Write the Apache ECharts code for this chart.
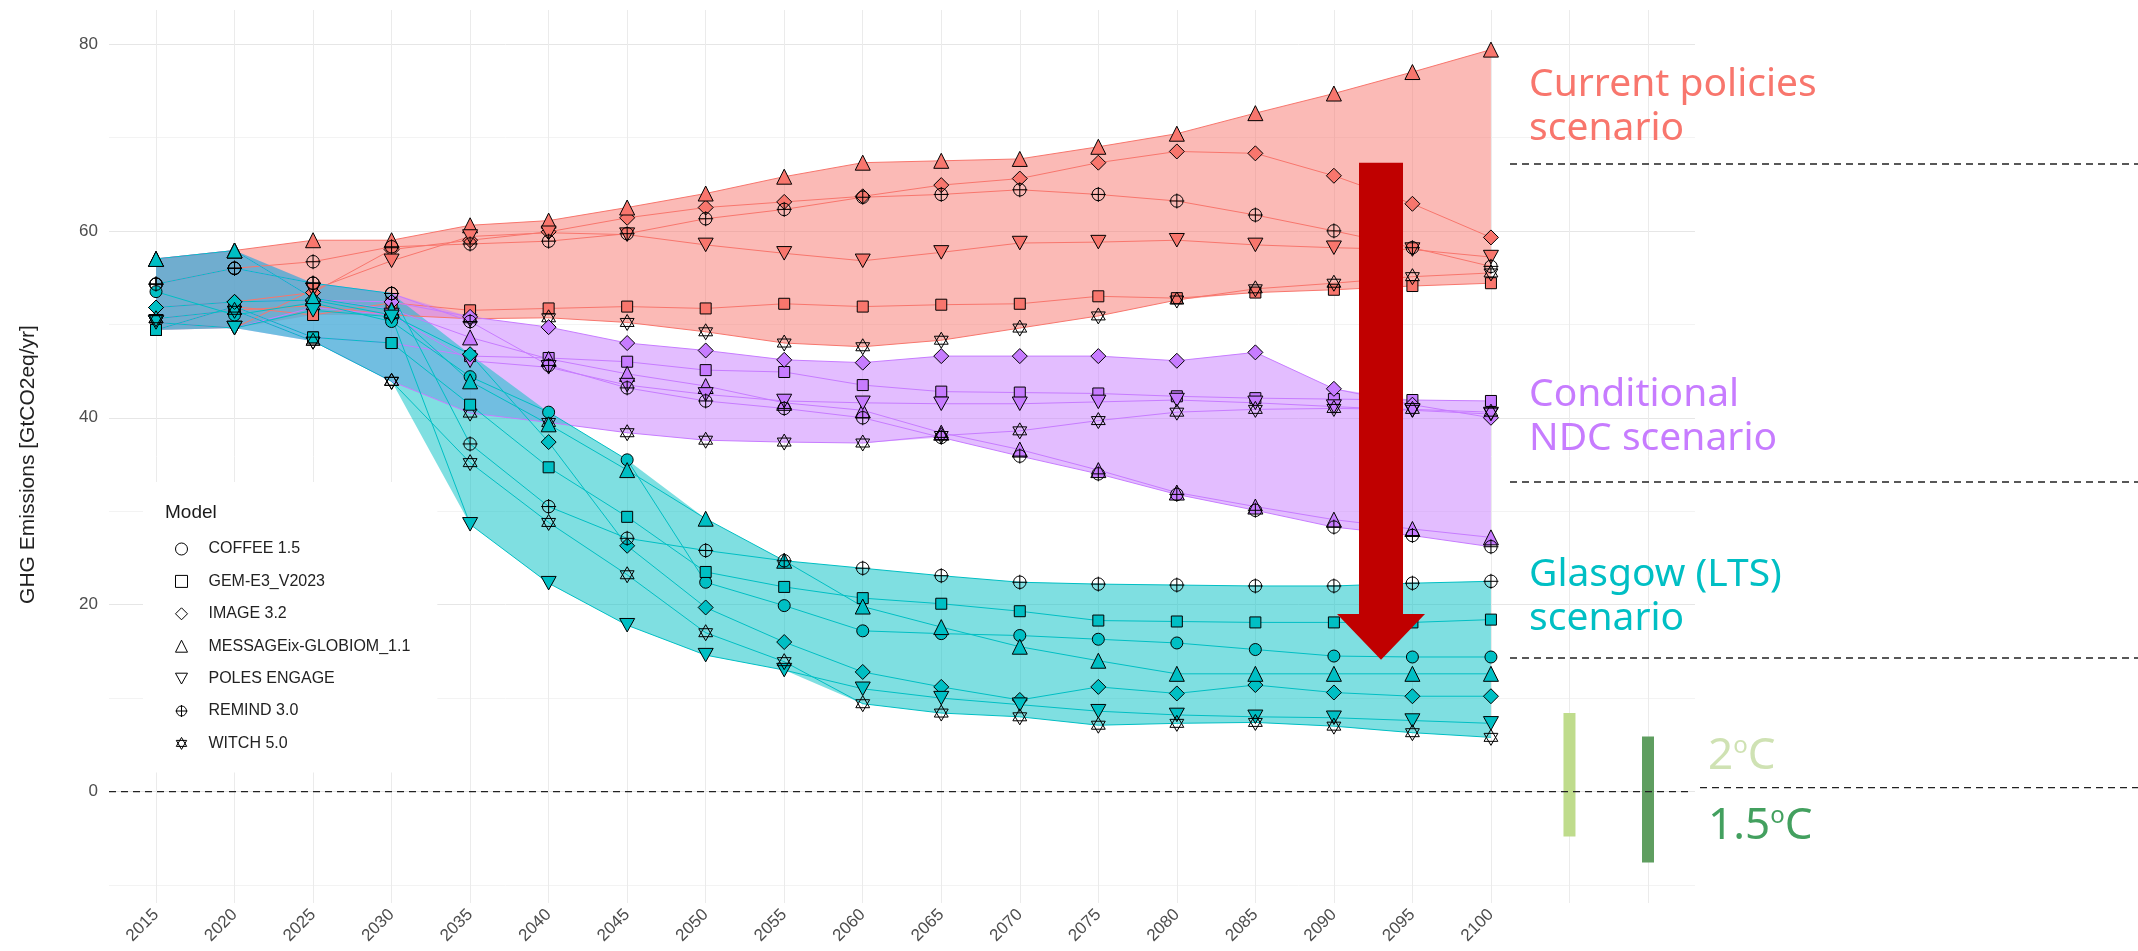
<!DOCTYPE html>
<html>
<head>
<meta charset="utf-8">
<script src="https://cdn.jsdelivr.net/npm/echarts@6.0.0/dist/echarts.min.js"></script>
<style>
  html, body { margin: 0; padding: 0; background: #fff; }
  #chart { width: 2138px; height: 951px; }
</style>
</head>
<body>
<div id="chart"></div>
<script>
// years on the x axis
const years = [2015, 2020, 2025, 2030, 2035, 2040, 2045, 2050, 2055, 2060, 2065, 2070, 2075, 2080, 2085, 2090, 2095, 2100];

// Current policies scenario
const cpGEM     = [49.4, 51.9, 51.0, 52.3, 51.5, 51.7, 51.9, 51.7, 52.2, 51.9, 52.1, 52.2, 53.0, 52.8, 53.4, 53.7, 54.1, 54.4];
const cpIMAGE   = [51.8, 52.4, 53.4, 58.0, 59.0, 59.9, 61.4, 62.5, 63.1, 63.7, 64.9, 65.6, 67.3, 68.5, 68.3, 65.9, 62.9, 59.3];
const cpMESSAGE = [57.0, 57.9, 59.0, 59.0, 60.6, 61.1, 62.5, 64.0, 65.8, 67.3, 67.5, 67.7, 69.0, 70.4, 72.6, 74.7, 77.0, 79.4];
const cpPOLES   = [50.2, 49.6, 53.7, 56.8, 59.4, 59.8, 59.6, 58.5, 57.6, 56.8, 57.7, 58.7, 58.8, 59.0, 58.5, 58.2, 58.0, 57.2];
const cpREMIND  = [54.3, 56.0, 56.7, 58.3, 58.6, 58.9, 59.7, 61.3, 62.3, 63.6, 63.9, 64.4, 63.9, 63.2, 61.7, 60.0, 58.2, 56.2];
const cpWITCH   = [50.6, 51.5, 52.0, 51.0, 50.6, 50.7, 50.2, 49.2, 48.0, 47.6, 48.3, 49.6, 50.9, 52.6, 53.8, 54.4, 55.1, 55.5];

// Conditional NDC scenario
const ndcGEM     = [49.4, 51.9, 48.6, 48.0, 46.6, 46.4, 46.0, 45.1, 44.9, 43.5, 42.8, 42.7, 42.6, 42.3, 42.1, 42.0, 41.9, 41.8];
const ndcIMAGE   = [51.8, 52.4, 52.6, 52.4, 50.8, 49.7, 48.0, 47.2, 46.2, 45.9, 46.6, 46.6, 46.6, 46.1, 47.0, 43.1, 41.4, 40.0];
const ndcMESSAGE = [57.0, 57.9, 52.8, 51.6, 48.6, 46.3, 44.7, 43.4, 41.6, 40.8, 38.4, 36.6, 34.4, 32.0, 30.5, 29.1, 28.1, 27.2];
const ndcPOLES   = [50.2, 49.6, 51.8, 51.0, 46.1, 45.4, 43.5, 42.5, 41.8, 41.6, 41.5, 41.5, 41.7, 41.9, 41.6, 41.2, 40.8, 40.4];
const ndcREMIND  = [54.3, 56.0, 54.4, 53.3, 50.3, 45.6, 43.2, 41.8, 41.0, 40.0, 37.9, 35.9, 34.0, 31.8, 30.1, 28.3, 27.4, 26.2];
const ndcWITCH   = [50.6, 51.5, 48.2, 43.9, 40.5, 39.5, 38.4, 37.6, 37.4, 37.3, 38.1, 38.6, 39.7, 40.6, 40.9, 41.0, 40.9, 40.6];

// Glasgow (LTS) scenario
const glCOFFEE  = [53.5, 51.0, 52.3, 50.3, 44.4, 40.6, 35.5, 22.4, 19.9, 17.2, 16.9, 16.7, 16.3, 15.9, 15.2, 14.5, 14.4, 14.4];
const glGEM     = [49.4, 51.9, 48.6, 48.0, 41.4, 34.7, 29.4, 23.5, 21.9, 20.7, 20.1, 19.3, 18.3, 18.2, 18.1, 18.1, 18.1, 18.4];
const glIMAGE   = [51.8, 52.4, 52.6, 51.0, 46.8, 37.4, 26.3, 19.7, 16.0, 12.8, 11.2, 9.8, 11.2, 10.5, 11.4, 10.6, 10.2, 10.2];
const glMESSAGE = [57.0, 57.9, 52.8, 51.5, 43.9, 39.3, 34.4, 29.2, 24.7, 19.8, 17.6, 15.5, 14.0, 12.6, 12.6, 12.6, 12.6, 12.6];
const glPOLES   = [50.2, 49.6, 51.5, 50.8, 28.6, 22.3, 17.8, 14.6, 13.0, 11.0, 10.0, 9.3, 8.6, 8.2, 8.0, 7.9, 7.6, 7.3];
const glREMIND  = [54.3, 56.0, 54.4, 53.3, 37.2, 30.5, 27.1, 25.8, 24.7, 23.9, 23.1, 22.4, 22.2, 22.1, 22.0, 22.0, 22.3, 22.5];
const glWITCH   = [50.6, 51.5, 48.2, 43.9, 35.2, 28.8, 23.2, 17.0, 13.9, 9.4, 8.4, 8.0, 7.1, 7.3, 7.4, 7.0, 6.3, 5.8];

// temperature ranges (bars on the right)
const tempYears = [2105, 2110];
const tempLow   = [-4.8, -7.6];
const tempHigh  = [8.4, 5.9];

const models = ['COFFEE 1.5', 'GEM-E3_V2023', 'IMAGE 3.2', 'MESSAGEix-GLOBIOM_1.1', 'POLES ENGAGE', 'REMIND 3.0', 'WITCH 5.0'];

const scenarios = [
  { key: 'cp', color: '#F8766D', runs: { 'GEM-E3_V2023': cpGEM, 'IMAGE 3.2': cpIMAGE, 'MESSAGEix-GLOBIOM_1.1': cpMESSAGE, 'POLES ENGAGE': cpPOLES, 'REMIND 3.0': cpREMIND, 'WITCH 5.0': cpWITCH } },
  { key: 'ndc', color: '#C77CFF', runs: { 'GEM-E3_V2023': ndcGEM, 'IMAGE 3.2': ndcIMAGE, 'MESSAGEix-GLOBIOM_1.1': ndcMESSAGE, 'POLES ENGAGE': ndcPOLES, 'REMIND 3.0': ndcREMIND, 'WITCH 5.0': ndcWITCH } },
  { key: 'gl', color: '#00BFC4', runs: { 'COFFEE 1.5': glCOFFEE, 'GEM-E3_V2023': glGEM, 'IMAGE 3.2': glIMAGE, 'MESSAGEix-GLOBIOM_1.1': glMESSAGE, 'POLES ENGAGE': glPOLES, 'REMIND 3.0': glREMIND, 'WITCH 5.0': glWITCH } }
];

// ggplot-like shapes (21-25 filled, 10 and 11 open)
const shapes = {
  'COFFEE 1.5': { symbol: 'circle', size: 12, filled: true },
  'GEM-E3_V2023': { symbol: 'rect', size: 11, filled: true },
  'IMAGE 3.2': { symbol: 'diamond', size: 15, filled: true },
  'MESSAGEix-GLOBIOM_1.1': { symbol: 'triangle', size: 15, filled: true },
  'POLES ENGAGE': { symbol: 'path://M0,0L10,0L5,9Z', size: 15, filled: true },
  'REMIND 3.0': { symbol: 'path://M5,0A5,5 0 1,1 5,10A5,5 0 1,1 5,0Z M5,-1L5,11 M-1,5L11,5', size: 15, filled: false },
  'WITCH 5.0': { symbol: 'path://M5,0L10,8.66L0,8.66Z M0,2.89L10,2.89L5,11.55Z', size: 16, filled: false }
};

const FONT = 'Liberation Sans';
const bands = [], lines = [], points = [];

scenarios.forEach(sc => {
  const runs = Object.values(sc.runs);
  const lo = years.map((y, i) => Math.min(...runs.map(r => r[i])));
  const hi = years.map((y, i) => Math.max(...runs.map(r => r[i])));
  // min-max ribbon of the scenario
  bands.push({
    type: 'custom', xAxisIndex: 2, yAxisIndex: 2, z: 1, silent: true, clip: false,
    data: years.map((y, i) => [y, lo[i], hi[i]]),
    encode: { x: 0, y: [1, 2] },
    renderItem: (params, api) => {
      if (params.dataIndex !== 0) return null;
      const upper = years.map((y, i) => api.coord([y, hi[i]]));
      const lower = years.map((y, i) => api.coord([y, lo[i]])).reverse();
      return {
        type: 'polygon',
        shape: { points: upper.concat(lower) },
        style: { fill: sc.color, opacity: 0.5 }
      };
    }
  });
  Object.keys(sc.runs).forEach(m => {
    const pairs = years.map((y, i) => [y, sc.runs[m][i]]);
    lines.push({
      type: 'line', name: m + ' ' + sc.key, xAxisIndex: 2, yAxisIndex: 2, silent: true, z: 2,
      symbol: 'none', lineStyle: { color: sc.color, width: 1 },
      data: pairs
    });
    const sh = shapes[m];
    points.push({
      type: 'scatter', name: m, xAxisIndex: 2, yAxisIndex: 2, z: 3,
      symbol: sh.symbol, symbolSize: sh.size, symbolKeepAspect: true,
      itemStyle: { color: sh.filled ? sc.color : 'rgba(0,0,0,0)', borderColor: '#000', borderWidth: 1, opacity: 1 },
      data: pairs
    });
  });
});

const tempColors = ['#bfdc8c', '#5f9e60'];
const tempSeries = {
  type: 'custom', xAxisIndex: 2, yAxisIndex: 2, z: 4, silent: true,
  data: tempYears.map((y, i) => [y, tempLow[i], tempHigh[i]]),
  encode: { x: 0, y: [1, 2] },
  renderItem: (params, api) => {
    const top = api.coord([api.value(0), api.value(2)]);
    const bot = api.coord([api.value(0), api.value(1)]);
    return {
      type: 'rect',
      shape: { x: top[0] - 6, y: top[1], width: 12, height: bot[1] - top[1] },
      style: { fill: tempColors[params.dataIndex] }
    };
  }
};

const option = {
  animation: false,
  backgroundColor: '#fff',
  grid: [
    { left: 109, top: 44, width: 1586, height: 841 },   // horizontal grid lines
    { left: 156, top: 10, width: 1492, height: 893 },   // vertical grid lines
    { left: 156, top: 44, width: 1492, height: 841 }    // data
  ],
  xAxis: [
    { gridIndex: 0, type: 'value', min: 0, max: 1, show: false },
    {
      gridIndex: 1, type: 'value', min: 2015, max: 2110, interval: 5,
      axisLine: { show: false }, axisTick: { show: false },
      axisLabel: { rotate: 45, margin: 9, color: '#4D4D4D', fontSize: 17, fontFamily: FONT,
        formatter: v => (v <= 2100 ? String(v) : '') },
      splitLine: { lineStyle: { color: '#EBEBEB', width: 1 } }
    },
    { gridIndex: 2, type: 'value', min: 2015, max: 2110, show: false }
  ],
  yAxis: [
    {
      gridIndex: 0, type: 'value', min: -10, max: 80, interval: 10,
      axisLine: { show: false }, axisTick: { show: false },
      axisLabel: { margin: 11, color: '#4D4D4D', fontSize: 17, fontFamily: FONT,
        formatter: v => (v % 20 === 0 ? String(v) : '') },
      splitLine: { lineStyle: { color: ['#F3F3F3', '#E6E6E6'], width: 1 } },
      name: 'GHG Emissions [GtCO2eq/yr]', nameLocation: 'middle', nameGap: 70,
      nameTextStyle: { fontSize: 21, color: '#222', fontFamily: FONT }
    },
    { gridIndex: 1, type: 'value', min: 0, max: 1, show: false },
    { gridIndex: 2, type: 'value', min: -10, max: 80, show: false }
  ],
  legend: {
    orient: 'vertical', left: 143, top: 482,
    backgroundColor: '#fff', padding: [58, 27, 20, 32],
    itemWidth: 12, itemHeight: 12, itemGap: 14.4, selectedMode: false,
    itemStyle: { color: 'rgba(0,0,0,0)', borderColor: '#000', borderWidth: 1 },
    textStyle: { fontFamily: FONT, fontSize: 16, lineHeight: 18, color: '#222', padding: [0, 0, 0, 16] },
    data: models.map(m => ({ name: m, icon: shapes[m].symbol }))
  },
  series: [...bands, ...lines, ...points, tempSeries]
};

const chart = echarts.init(document.getElementById('chart'));
chart.setOption(option);

// annotations placed through the data grid's scales
const px = (x, y) => chart.convertToPixel({ gridIndex: 2 }, [x, y]);
const zeroY = px(2015, 0)[1];
const [ax, arrowTop] = px(2093, 67.3);
const arrowNeck = px(2093, 19.0)[1];
const arrowTip = px(2093, 14.1)[1];

const dash = (x1, y1, x2, y2) => ({
  type: 'line', z: 100, silent: true,
  shape: { x1, y1, x2, y2 },
  style: { stroke: '#222', lineWidth: 1.3, lineDash: [7, 5] }
});
const label = (text, x, y, color) => ({
  type: 'text', z: 100, silent: true, x, y,
  style: { text, fill: color, fontSize: 39, fontFamily: 'Noto Sans', verticalAlign: 'middle' }
});
const degree = (num, x, y, color) => ({
  type: 'text', z: 100, silent: true, x, y,
  style: {
    text: '{n|' + num + '}{s|o}{n|C}', fill: color, verticalAlign: 'middle',
    rich: {
      n: { fontSize: 44, fontFamily: 'Noto Sans', fill: color },
      s: { fontSize: 24, fontFamily: 'Noto Sans', fill: color, verticalAlign: 'top' }
    }
  }
});

chart.setOption({
  graphic: [
    dash(109, zeroY, 1689, zeroY),
    dash(1700, zeroY - 4, 2138, zeroY - 4),
    dash(1510, 164, 2138, 164),
    dash(1510, 482, 2138, 482),
    dash(1510, 658, 2138, 658),
    {
      type: 'polygon', z: 100, silent: true,
      shape: { points: [[ax - 22, arrowTop], [ax + 22, arrowTop], [ax + 22, arrowNeck], [ax + 44, arrowNeck],
        [ax, arrowTip], [ax - 44, arrowNeck], [ax - 22, arrowNeck]] },
      style: { fill: '#C00000' }
    },
    label('Current policies', 1529, 85, '#F8766D'),
    label('scenario', 1529, 129, '#F8766D'),
    label('Conditional', 1529, 395, '#C77CFF'),
    label('NDC scenario', 1529, 439, '#C77CFF'),
    label('Glasgow (LTS)', 1529, 575, '#00BFC4'),
    label('scenario', 1529, 619, '#00BFC4'),
    degree('2', 1708, 756, '#cfe2b3'),
    degree('1.5', 1708, 826, '#43a05f'),
    {
      type: 'text', z: 100, silent: true, x: 165, y: 513,
      style: { text: 'Model', fill: '#1a1a1a', fontSize: 19, fontFamily: FONT, verticalAlign: 'middle' }
    }
  ]
});
</script>
</body>
</html>
